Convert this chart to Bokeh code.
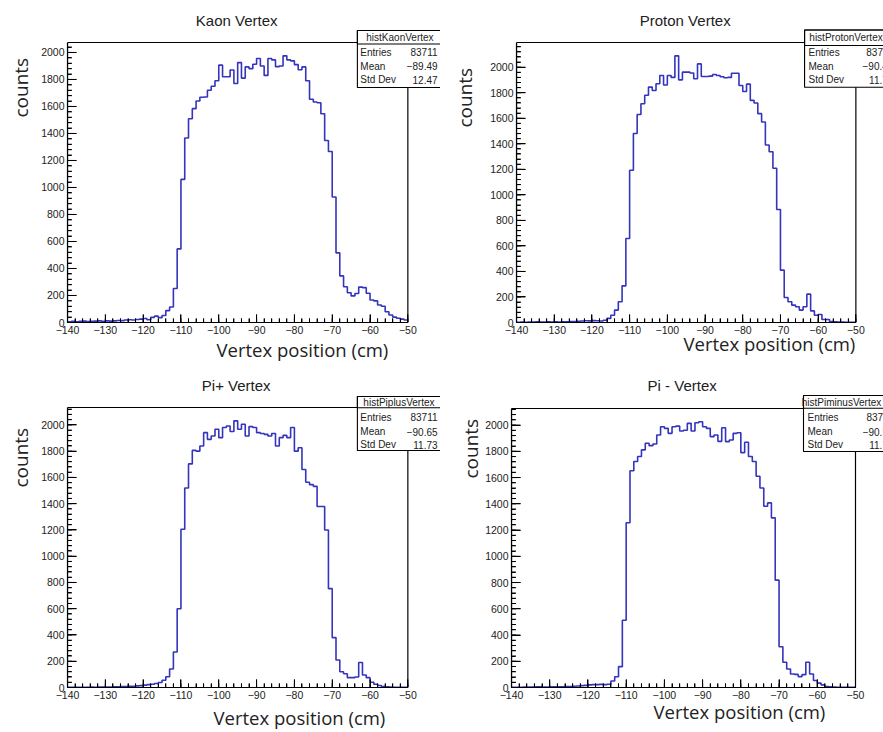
import math
from bokeh.plotting import figure
from bokeh.models import Range1d, FixedTicker, Label, BoxAnnotation, Title
from bokeh.layouts import row, column
from bokeh.embed import file_html
from bokeh.resources import INLINE

# ---------------- data ----------------
X_START, X_STOP, BIN_W = -140, -50, 1
XTICKS = [-140, -130, -120, -110, -100, -90, -80, -70, -60, -50]
XTICK_LABELS = ["\u2212140", "\u2212130", "\u2212120", "\u2212110", "\u2212100",
                "\u221290", "\u221280", "\u221270", "\u221260", "\u221250"]
X_MINOR_STEP = 2
YTICKS = [0, 200, 400, 600, 800, 1000, 1200, 1400, 1600, 1800, 2000]
YTICK_LABELS = ["0", "200", "400", "600", "800", "1000", "1200", "1400", "1600", "1800", "2000"]
Y_MINOR_STEP = 40

KAON = [5, 8, 6, 8, 10, 7, 9, 10, 12, 8,
        12, 10, 12, 15, 14, 18, 20, 18, 22, 25,
        30, 20, 38, 47, 36, 52, 88, 115, 252, 545,
        1060, 1366, 1509, 1584, 1640, 1668, 1670, 1720, 1750, 1790,
        1906, 1820, 1820, 1870, 1770, 1925, 1810, 1893, 1880, 1913,
        1955, 1900, 1830, 1955, 1945, 1895, 1900, 1975, 1945, 1938,
        1910, 1872, 1893, 1790, 1653, 1633, 1628, 1546, 1348, 1266,
        930, 516, 345, 265, 220, 197, 215, 262, 258, 217,
        167, 160, 130, 120, 80, 55, 40, 32, 25, 18]

PROTON = [2, 3, 2, 4, 3, 5, 4, 3, 5, 4,
          5, 4, 6, 5, 7, 8, 10, 12, 14, 13,
          15, 14, 12, 18, 32, 57, 97, 162, 287, 658,
          1193, 1480, 1630, 1714, 1780, 1844, 1818, 1870, 1935, 1860,
          1935, 1920, 2089, 1901, 1961, 1961, 1955, 1909, 2026, 1927,
          1927, 1930, 1943, 1935, 1925, 1917, 1920, 1953, 1953, 1857,
          1810, 1867, 1740, 1720, 1636, 1571, 1390, 1338, 1208, 885,
          410, 196, 162, 136, 123, 97, 123, 222, 91, 57,
          63, 23, 23, 8, 5, 4, 3, 2, 2, 1]

PIPLUS = [1, 1, 2, 1, 2, 2, 3, 2, 3, 3,
          4, 4, 5, 6, 7, 8, 9, 10, 12, 14,
          18, 22, 25, 30, 38, 55, 82, 141, 270, 600,
          1205, 1519, 1703, 1806, 1800, 1839, 1941, 1890, 1916, 1967,
          1903, 1980, 1992, 1950, 2031, 1967, 2005, 1916, 1987, 1980,
          1941, 1935, 1928, 1916, 1935, 1839, 1903, 1920, 1903, 1980,
          1800, 1826, 1660, 1563, 1545, 1532, 1379, 1379, 1200, 753,
          380, 210, 120, 105, 75, 75, 80, 190, 95, 75,
          40, 25, 15, 8, 5, 3, 2, 2, 1, 1]

PIMINUS = [1, 2, 2, 3, 3, 4, 5, 5, 4, 4,
           5, 6, 5, 6, 7, 8, 10, 12, 14, 16,
           20, 22, 22, 24, 22, 25, 50, 82, 159, 513,
           1255, 1652, 1722, 1760, 1811, 1861, 1843, 1856, 1924, 1987,
           1975, 1937, 1987, 1992, 1955, 1960, 2013, 1955, 2018, 2025,
           1987, 1975, 1912, 1924, 1876, 1980, 1874, 1886, 1937, 1942,
           1790, 1869, 1760, 1722, 1610, 1520, 1381, 1407, 1293, 818,
           311, 192, 141, 103, 100, 83, 98, 192, 103, 53,
           33, 20, 8, 5, 3, 2, 2, 1, 1, 1]

TITLES = ["Kaon Vertex", "Proton Vertex", "Pi+ Vertex", "Pi - Vertex"]
HIST_NAMES = ["histKaonVertex", "histProtonVertex", "histPiplusVertex", "histPiminusVertex"]
ENTRIES = ["83711", "83711", "83711", "83711"]
MEANS = ["\u221289.49", "\u221290.45", "\u221290.65", "\u221290.56"]
STD_DEVS = ["12.47", "11.79", "11.73", "11.73"]
STAT_KEYS = ["Entries", "Mean", "Std Dev"]
X_TITLE = "Vertex position (cm)"
Y_TITLE = "counts"

# ---------------- layout (page pixel positions) ----------------
# origin/size: canvas; bl/bb: left/bottom borders; rr/rt: right/top edge of the ROOT frame
# ylab: (offset, standoff) ; xlab: (offset, standoff, vertical_align)
LAYOUT = [
    dict(origin=(0, 0), size=(440, 366), bl=63, bb=44, rr=407, rt=42,
         title_xy=(234, 20), ylab=(205, 10), xlab=(149, 1, "top"),
         box=(356, 442, 30, 43.5, 87), rows_y=(37, 51.7, 65.7, 79.3), text_x=(359, 437), head_x=399),
    dict(origin=(440, 0), size=(443, 366), bl=71, bb=44, rr=855, rt=42,
         title_xy=(682, 20), ylab=(195, 19), xlab=(167, -12, "top"),
         box=(803, 900, 29.5, 45, 86.7), rows_y=(37.3, 51.7, 65.7, 79.3), text_x=(807, 893), head_x=845),
    dict(origin=(0, 366), size=(440, 366), bl=63, bb=45, rr=407, rt=407,
         title_xy=(233.5, 385), ylab=(200, 10), xlab=(146, 3, "bottom"),
         box=(356, 442, 396, 407.3, 450), rows_y=(401.7, 416.7, 431, 444.3), text_x=(359, 437), head_x=398),
    dict(origin=(440, 366), size=(443, 366), bl=71, bb=45, rr=855, rt=408,
         title_xy=(681.7, 385), ylab=(209, -2), xlab=(142, -5, "top"),
         box=(803, 900, 395, 407.7, 451), rows_y=(401.5, 416.7, 431, 444.3), text_x=(807, 893), head_x=841),
]

HIST_COLOR = "#3434bd"
TICK_FONT = "Liberation Sans"
LABEL_FONT = "Open Sans"
X_MAJOR_LEN, X_MINOR_LEN, Y_MAJOR_LEN, Y_MINOR_LEN = 8, 4, 9, 4.5


def side_title(text, size, offset, standoff, valign="bottom"):
    kw = dict(text=text, align="left", offset=offset, vertical_align=valign, text_font=LABEL_FONT,
              text_font_size=size, text_font_style="normal", text_color="#222222")
    try:
        return Title(standoff=standoff, **kw)
    except Exception:
        return Title(standoff=0, **kw)


def make_panel(values, title, hname, entries, mean, std, L):
    ox, oy = L["origin"]
    w, h = L["size"]
    bl, bb = L["bl"], L["bb"]
    ymax = 1.05 * max(values)
    fx0 = ox + bl              # frame left (page px)
    fy1 = oy + h - bb          # frame bottom (page px)
    rr, rt = L["rr"], L["rt"]  # ROOT frame right / top (page px)
    xs = (X_STOP - X_START) / (rr - fx0)   # data per px
    ys = ymax / (fy1 - rt)
    x_end = X_STOP + (ox + w - rr) * xs
    y_end = ymax + (rt - oy) * ys

    p = figure(width=w, height=h, x_range=Range1d(X_START, x_end), y_range=Range1d(0, y_end),
               output_backend="svg", toolbar_location=None, title=None,
               min_border_left=bl, min_border_right=0, min_border_top=0, min_border_bottom=bb)
    p.background_fill_color = "white"
    p.border_fill_color = "white"
    p.outline_line_color = None
    p.xgrid.visible = False
    p.ygrid.visible = False

    def dx(X):
        return X_START + (X - fx0) * xs

    def dy(Y):
        return (fy1 - Y) * ys

    # histogram outline
    edges = [X_START + i * BIN_W for i in range(len(values) + 1)]
    p.step(edges, list(values) + [values[-1]], mode="after", line_color=HIST_COLOR, line_width=1.6)

    # ROOT frame (top/right edges)
    p.add_layout(BoxAnnotation(left=X_START, right=X_STOP, bottom=0, top=ymax, fill_alpha=0.0,
                               line_color="black", line_width=1.2, line_alpha=1.0))

    # axes
    x_minor = list(range(X_START, X_STOP + 1, X_MINOR_STEP))
    y_minor = list(range(0, int(ymax) + 1, Y_MINOR_STEP))
    p.xaxis.ticker = FixedTicker(ticks=XTICKS, minor_ticks=x_minor)
    p.xaxis.major_label_overrides = dict(zip(XTICKS, XTICK_LABELS))
    p.xaxis.bounds = (X_START, X_STOP)
    p.yaxis.ticker = FixedTicker(ticks=YTICKS, minor_ticks=y_minor)
    p.yaxis.major_label_overrides = dict(zip(YTICKS, YTICK_LABELS))
    p.yaxis.bounds = (0, ymax)
    for ax, tin in ((p.xaxis, X_MAJOR_LEN), (p.yaxis, Y_MAJOR_LEN)):
        ax.major_tick_in = tin
        ax.major_tick_out = 0
        ax.minor_tick_in = 4
        ax.minor_tick_out = 0
        ax.axis_line_color = "black"
        ax.axis_line_width = 1.2
        ax.major_tick_line_color = "black"
        ax.minor_tick_line_color = "black"
        ax.major_label_text_font = TICK_FONT
        ax.major_label_text_font_size = "10.5px"
        ax.major_label_text_color = "#222222"
        ax.major_label_standoff = 3

    # inward tick marks drawn inside the frame (ROOT style)
    p.segment(x0=XTICKS, y0=[0] * len(XTICKS), x1=XTICKS, y1=[X_MAJOR_LEN * ys] * len(XTICKS),
              line_color="black", line_width=1)
    p.segment(x0=x_minor, y0=[0] * len(x_minor), x1=x_minor, y1=[X_MINOR_LEN * ys] * len(x_minor),
              line_color="black", line_width=1)
    p.segment(x0=[X_START] * len(YTICKS), y0=YTICKS, x1=[X_START + Y_MAJOR_LEN * xs] * len(YTICKS), y1=YTICKS,
              line_color="black", line_width=1)
    p.segment(x0=[X_START] * len(y_minor), y0=y_minor, x1=[X_START + Y_MINOR_LEN * xs] * len(y_minor), y1=y_minor,
              line_color="black", line_width=1)

    # axis titles in the side panels
    yoff, ystand = L["ylab"]
    p.add_layout(side_title(Y_TITLE, "19px", yoff, ystand), "left")
    xoff, xstand, xval = L["xlab"]
    p.add_layout(side_title(X_TITLE, "18.5px", xoff, xstand, xval), "below")

    def lab(X, Y, text, size, align="center"):
        p.add_layout(Label(x=dx(X), y=dy(Y), text=text, text_font=TICK_FONT, text_font_size=size,
                           text_align=align, text_baseline="middle", text_color="#222222"))

    lab(*L["title_xy"], title, "15px")

    # stat box
    bx0, bx1, by0, bsep, by1 = L["box"]
    for (t, b, fa) in ((by0, by1, 1.0), (by0, bsep, 0.0)):
        p.add_layout(BoxAnnotation(left=dx(bx0), right=dx(bx1), top=dy(t), bottom=dy(b),
                                   fill_color="white", fill_alpha=fa,
                                   line_color="black", line_width=1.1, line_alpha=1.0))
    ry = L["rows_y"]
    tx0, tx1 = L["text_x"]
    lab(L["head_x"], ry[0], hname, "10px")
    for key, val, yy in zip(STAT_KEYS, [entries, mean, std], ry[1:]):
        lab(tx0, yy, key, "10px", align="left")
        lab(tx1, yy, val, "10px", align="right")
    return p


series = [KAON, PROTON, PIPLUS, PIMINUS]
panels = [make_panel(series[i], TITLES[i], HIST_NAMES[i], ENTRIES[i], MEANS[i], STD_DEVS[i], LAYOUT[i])
          for i in range(4)]

layout = column(row(panels[0], panels[1]), row(panels[2], panels[3]))
open("out.html", "w").write(file_html(layout, INLINE))
